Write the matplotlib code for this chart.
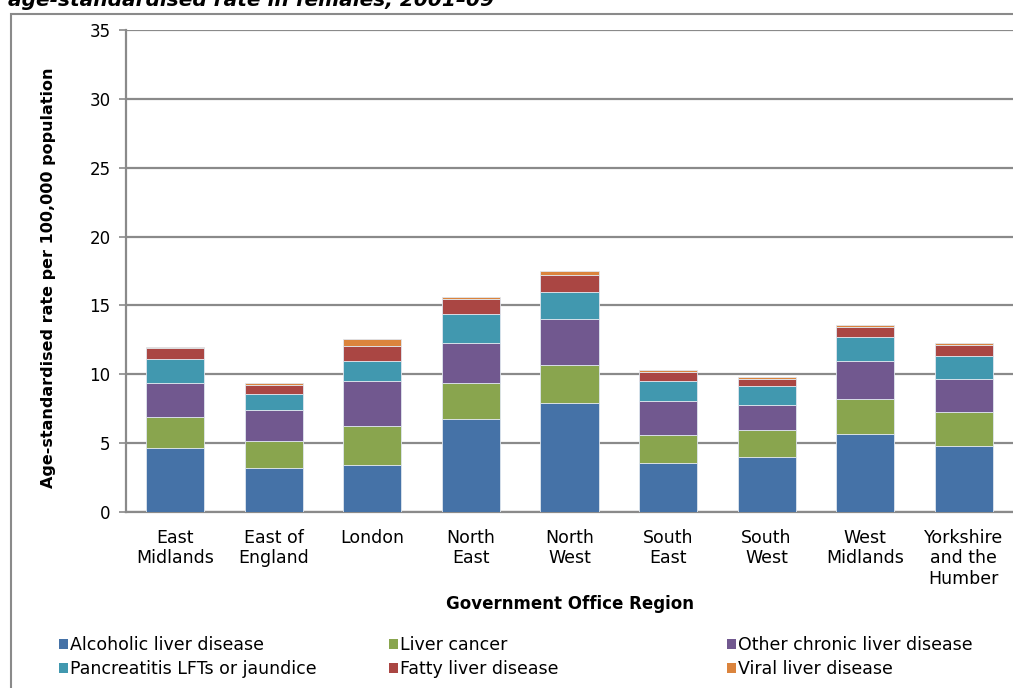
import matplotlib as mpl
import numpy as np
from matplotlib import pyplot as plt
from matplotlib.patches import Rectangle, Patch

mpl.use("Agg")
plt.rcParams["font.family"] = ["DejaVu Sans"]

regions = ["East\nMidlands", "East of\nEngland", "London", "North\nEast", "North\nWest",
           "South\nEast", "South\nWest", "West\nMidlands", "Yorkshire\nand the\nHumber"]

alcoholic = [4.63, 3.17, 3.44, 6.73, 7.93, 3.56, 3.98, 5.68, 4.76]
liver_cancer = [2.25, 1.95, 2.78, 2.64, 2.75, 2.00, 1.97, 2.52, 2.51]
other_chronic = [2.49, 2.27, 3.27, 2.90, 3.30, 2.49, 1.85, 2.75, 2.36]
pancreatitis = [1.73, 1.20, 1.46, 2.12, 1.97, 1.46, 1.32, 1.73, 1.71]
fatty = [0.78, 0.65, 1.07, 1.05, 1.25, 0.64, 0.54, 0.76, 0.78]
viral = [0.12, 0.13, 0.52, 0.15, 0.29, 0.17, 0.12, 0.17, 0.17]

series = [
    ("Alcoholic liver disease", alcoholic, "#4572A7"),
    ("Liver cancer", liver_cancer, "#89A54E"),
    ("Other chronic liver disease", other_chronic, "#71588F"),
    ("Pancreatitis LFTs or jaundice", pancreatitis, "#4198AF"),
    ("Fatty liver disease", fatty, "#AA4643"),
    ("Viral liver disease", viral, "#DB843D"),
]

fig = plt.figure(figsize=(10.13, 6.88), dpi=100)
ax = fig.add_axes([126 / 1013, 1 - 512 / 688, 1 - 126 / 1013, (512 - 30) / 688])

x = np.arange(len(regions))
bottom = np.zeros(len(regions))
for name, vals, color in series:
    ax.bar(x, vals, width=0.59, bottom=bottom, color=color, edgecolor="#dfe6ee",
           linewidth=0.6, label=name, zorder=3)
    bottom += np.array(vals)

ax.set_ylim(0, 35)
ax.set_xlim(-0.5, len(regions) - 0.5)
ax.set_yticks(range(0, 36, 5))
ax.yaxis.grid(True, color="#8a8a8a", linewidth=1.6, zorder=0)
ax.set_axisbelow(True)
for side in ["top", "right"]:
    ax.spines[side].set_visible(False)
for side in ["left", "bottom"]:
    ax.spines[side].set_color("#8a8a8a")
    ax.spines[side].set_linewidth(1.6)
ax.tick_params(axis="y", length=5, width=1.2, color="#8a8a8a", pad=6, labelsize=12)
ax.set_xticks(x)
ax.set_xticklabels(regions, fontsize=12.5, linespacing=1.2)
ax.tick_params(axis="x", length=0, pad=12)

ax.set_ylabel("Age-standardised rate per 100,000 population", fontsize=11.5, fontweight="bold")
ax.yaxis.set_label_coords(-0.079, 0.485)
ax.set_xlabel("Government Office Region", fontsize=12, fontweight="bold")
ax.xaxis.set_label_coords(0.5, -0.172)

fig.text(0.008, 1 - 6 / 688, "age-standardised rate in females, 2001\u201309", fontsize=14.5,
         fontweight="bold", fontstyle="italic", va="baseline", ha="left")

fig.add_artist(Rectangle((11 / 1013, -0.1), 1.2, 1 - 14 / 688 + 0.1, transform=fig.transFigure,
                         fill=False, edgecolor="#8a8a8a", linewidth=1.5))

# three separate legends so the columns sit at fixed positions
col_x = [59 / 1013, 389 / 1013, 727 / 1013]
for i, cx in enumerate(col_x):
    handles = [Patch(facecolor=series[i][2]), Patch(facecolor=series[i + 3][2])]
    labels = [series[i][0], series[i + 3][0]]
    fig.legend(handles, labels, loc="upper left", bbox_to_anchor=(cx, 1 - 636 / 688),
               frameon=False, fontsize=12.5, handlelength=0.5, handleheight=0.5,
               handletextpad=0.15, labelspacing=0.35, borderpad=0, borderaxespad=0)

fig.savefig("out.png", dpi=100)
